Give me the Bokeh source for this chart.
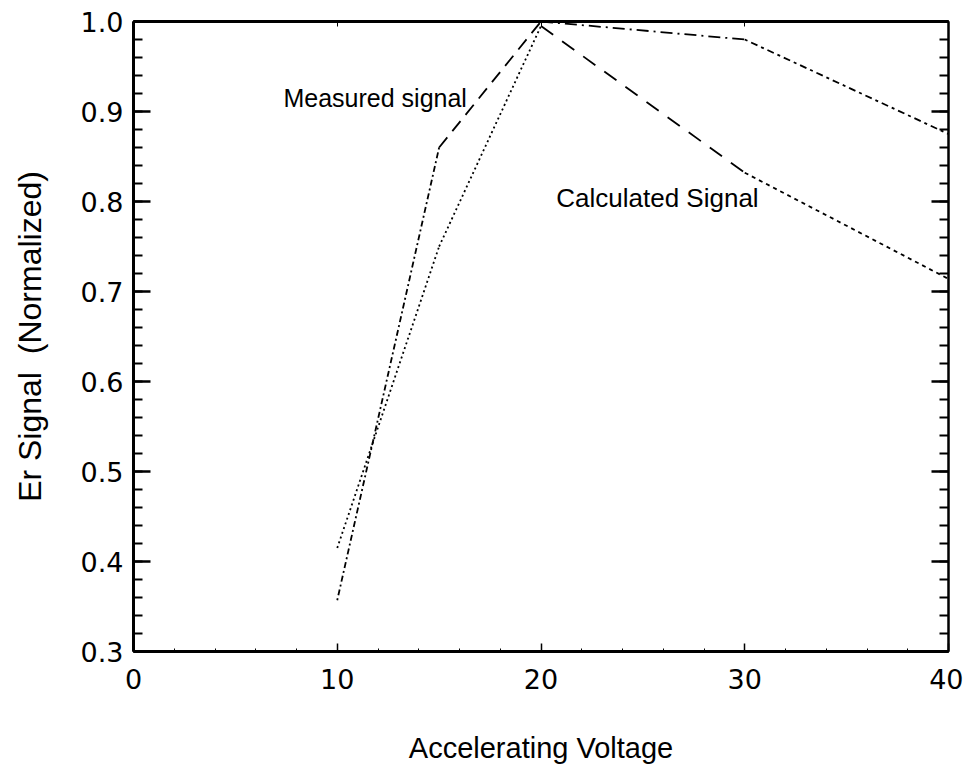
from bokeh.plotting import figure
from bokeh.models import LinearAxis, FixedTicker, Range1d, Label, PrintfTickFormatter
from bokeh.embed import file_html
from bokeh.resources import INLINE

# ---- data ----
voltage = [10, 15, 20, 30, 40]
measured = [0.357, 0.86, 1.0, 0.98, 0.875]
calculated = [0.415, 0.75, 0.995, 0.832, 0.714]

x_ticks = [0, 10, 20, 30, 40]
y_ticks = [0.3, 0.4, 0.5, 0.6, 0.7, 0.8, 0.9, 1.0]

x_title = "Accelerating Voltage"
y_title = "Er Signal\u00a0\u00a0(Normalized)"
label_measured = "Measured signal"
label_calculated = "Calculated Signal"

# ---- styles ----
measured_dashes = ["2 3 6 3", "13 8", "12 5 2 5", "3 4 7 4"]
calculated_dashes = ["2 3", "2 3", "15 11", "4 4"]

p = figure(width=963, height=768, output_backend="svg", toolbar_location=None,
           x_range=Range1d(0, 40), y_range=Range1d(0.3, 1.0),
           min_border_left=133, min_border_right=15, min_border_top=21,
           min_border_bottom=117, frame_width=815, frame_height=630)
p.background_fill_color = "white"
p.border_fill_color = "white"
p.grid.visible = False
p.outline_line_color = "black"
p.outline_line_width = 2

for i in range(len(voltage) - 1):
    p.line(voltage[i:i + 2], measured[i:i + 2], line_color="black",
           line_width=1.8, line_dash=measured_dashes[i])
    p.line(voltage[i:i + 2], calculated[i:i + 2], line_color="black",
           line_width=1.8, line_dash=calculated_dashes[i])

TICK_FONT = "DejaVu Sans"
TITLE_FONT = "Liberation Sans"

xa = p.xaxis[0]
xa.ticker = FixedTicker(ticks=x_ticks, minor_ticks=list(range(0, 41, 2)))
xa.major_tick_in = 8
xa.major_tick_out = 0
xa.minor_tick_in = 3
xa.minor_tick_out = 0
xa.axis_line_width = 3
xa.major_tick_line_width = 1.5
xa.major_label_text_font = TICK_FONT
xa.major_label_text_font_size = "27px"
xa.major_label_text_color = "black"
xa.major_label_standoff = 17
xa.axis_label = x_title
xa.axis_label_text_font = TITLE_FONT
xa.axis_label_text_font_size = "29px"
xa.axis_label_text_font_style = "normal"
xa.axis_label_text_color = "black"
xa.axis_label_standoff = 40

ya = p.yaxis[0]
ya.ticker = FixedTicker(ticks=y_ticks,
                        minor_ticks=[round(0.3 + 0.02 * k, 2) for k in range(36)])
ya.formatter = PrintfTickFormatter(format="%.1f")
ya.major_tick_in = 17
ya.major_tick_out = 0
ya.minor_tick_in = 9
ya.minor_tick_out = 0
ya.axis_line_width = 3
ya.major_tick_line_width = 2.5
ya.minor_tick_line_width = 2
ya.major_label_text_font = TICK_FONT
ya.major_label_text_font_size = "27px"
ya.major_label_text_color = "black"
ya.major_label_standoff = 10
ya.axis_label = y_title
ya.axis_label_text_font = TITLE_FONT
ya.axis_label_text_font_size = "32px"
ya.axis_label_text_font_style = "normal"
ya.axis_label_text_color = "black"
ya.axis_label_standoff = 30

ra = LinearAxis(ticker=FixedTicker(ticks=y_ticks,
                                   minor_ticks=[round(0.3 + 0.02 * k, 2) for k in range(36)]))
ra.major_tick_in = 17
ra.major_tick_out = 0
ra.minor_tick_in = 9
ra.minor_tick_out = 0
ra.axis_line_width = 2
ra.major_tick_line_width = 2.5
ra.minor_tick_line_width = 2
ra.major_label_text_font_size = "0px"
ra.major_label_text_color = None
p.add_layout(ra, "right")

ta = LinearAxis(ticker=FixedTicker(ticks=x_ticks, minor_ticks=[]))
ta.major_tick_in = 5
ta.major_tick_out = 0
ta.axis_line_width = 3
ta.major_label_text_font_size = "0px"
ta.major_label_text_color = None
p.add_layout(ta, "above")

p.add_layout(Label(x=7.36, y=0.915, text=label_measured, text_font=TITLE_FONT,
                   text_font_size="25px", text_baseline="middle", text_color="black"))
p.add_layout(Label(x=20.75, y=0.804, text=label_calculated, text_font=TITLE_FONT,
                   text_font_size="26px", text_baseline="middle", text_color="black"))

open("out.html", "w").write(file_html(p, INLINE))
